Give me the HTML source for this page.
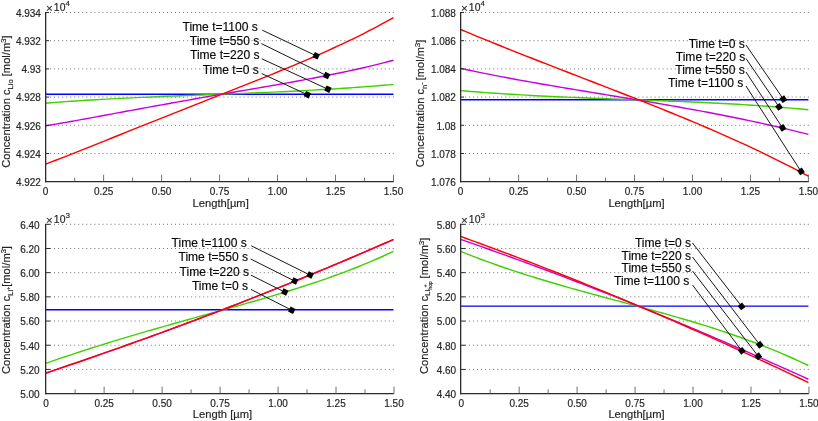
<!DOCTYPE html>
<html><head><meta charset="utf-8"><title>Concentration profiles</title>
<style>html,body{margin:0;padding:0;background:#fff;}body{width:818px;height:421px;overflow:hidden;font-family:"Liberation Sans",sans-serif;}svg{display:block;font-family:"Liberation Sans",sans-serif;will-change:transform;}text{stroke:#262626;stroke-width:0.18px;}</style>
</head><body>
<svg width="818" height="421" viewBox="0 0 818 421">
<rect width="818" height="421" fill="#fff"/>
<g>
<line x1="50.00" y1="12.50" x2="393.90" y2="12.50" stroke="#727272" stroke-width="1" stroke-dasharray="1 3.033"/>
<line x1="50.00" y1="40.70" x2="393.90" y2="40.70" stroke="#727272" stroke-width="1" stroke-dasharray="1 3.033"/>
<line x1="50.00" y1="68.90" x2="393.90" y2="68.90" stroke="#727272" stroke-width="1" stroke-dasharray="1 3.033"/>
<line x1="50.00" y1="97.10" x2="393.90" y2="97.10" stroke="#727272" stroke-width="1" stroke-dasharray="1 3.033"/>
<line x1="50.00" y1="125.30" x2="393.90" y2="125.30" stroke="#727272" stroke-width="1" stroke-dasharray="1 3.033"/>
<line x1="50.00" y1="153.50" x2="393.90" y2="153.50" stroke="#727272" stroke-width="1" stroke-dasharray="1 3.033"/>
<polyline points="45.65,94.30 393.50,94.30" fill="none" stroke="#0000ff" stroke-width="1.42" stroke-linejoin="round"/>
<polyline points="45.65,103.20 50.69,102.79 55.73,102.39 60.77,102.01 65.82,101.64 70.86,101.29 75.90,100.95 80.94,100.62 85.98,100.30 91.02,99.99 96.06,99.69 101.10,99.40 106.15,99.12 111.19,98.85 116.23,98.59 121.27,98.34 126.31,98.09 131.35,97.86 136.39,97.62 141.43,97.40 146.48,97.17 151.52,96.96 156.56,96.75 161.60,96.54 166.64,96.33 171.68,96.13 176.72,95.94 181.77,95.74 186.81,95.55 191.85,95.35 196.89,95.16 201.93,94.97 206.97,94.78 212.01,94.59 217.05,94.40 222.10,94.21 227.14,94.01 232.18,93.82 237.22,93.62 242.26,93.42 247.30,93.21 252.34,93.00 257.38,92.79 262.43,92.58 267.47,92.36 272.51,92.13 277.55,91.90 282.59,91.67 287.63,91.43 292.67,91.18 297.72,90.92 302.76,90.66 307.80,90.39 312.84,90.12 317.88,89.83 322.92,89.54 327.96,89.24 333.00,88.93 338.05,88.61 343.09,88.28 348.13,87.94 353.17,87.59 358.21,87.23 363.25,86.86 368.29,86.48 373.33,86.09 378.38,85.68 383.42,85.27 388.46,84.84 393.50,84.40" fill="none" stroke="#40d000" stroke-width="1.42" stroke-linejoin="round"/>
<polyline points="45.65,125.90 50.69,125.04 55.73,124.17 60.77,123.29 65.82,122.39 70.86,121.49 75.90,120.58 80.94,119.67 85.98,118.75 91.02,117.83 96.06,116.90 101.10,115.97 106.15,115.04 111.19,114.10 116.23,113.17 121.27,112.24 126.31,111.30 131.35,110.37 136.39,109.44 141.43,108.52 146.48,107.59 151.52,106.67 156.56,105.75 161.60,104.84 166.64,103.93 171.68,103.02 176.72,102.12 181.77,101.22 186.81,100.33 191.85,99.44 196.89,98.55 201.93,97.67 206.97,96.79 212.01,95.91 217.05,95.04 222.10,94.17 227.14,93.30 232.18,92.44 237.22,91.57 242.26,90.71 247.30,89.84 252.34,88.98 257.38,88.11 262.43,87.24 267.47,86.37 272.51,85.49 277.55,84.61 282.59,83.73 287.63,82.83 292.67,81.93 297.72,81.02 302.76,80.10 307.80,79.17 312.84,78.23 317.88,77.27 322.92,76.30 327.96,75.31 333.00,74.30 338.05,73.28 343.09,72.23 348.13,71.16 353.17,70.06 358.21,68.94 363.25,67.79 368.29,66.61 373.33,65.40 378.38,64.16 383.42,62.88 388.46,61.56 393.50,60.20" fill="none" stroke="#c800e0" stroke-width="1.42" stroke-linejoin="round"/>
<polyline points="45.65,164.10 50.69,162.18 55.73,160.24 60.77,158.29 65.82,156.32 70.86,154.35 75.90,152.36 80.94,150.37 85.98,148.36 91.02,146.36 96.06,144.34 101.10,142.33 106.15,140.31 111.19,138.28 116.23,136.26 121.27,134.24 126.31,132.21 131.35,130.19 136.39,128.17 141.43,126.15 146.48,124.13 151.52,122.11 156.56,120.10 161.60,118.08 166.64,116.08 171.68,114.07 176.72,112.07 181.77,110.07 186.81,108.07 191.85,106.08 196.89,104.08 201.93,102.09 206.97,100.10 212.01,98.12 217.05,96.13 222.10,94.14 227.14,92.15 232.18,90.16 237.22,88.17 242.26,86.17 247.30,84.17 252.34,82.17 257.38,80.16 262.43,78.14 267.47,76.11 272.51,74.07 277.55,72.02 282.59,69.96 287.63,67.88 292.67,65.79 297.72,63.68 302.76,61.55 307.80,59.40 312.84,57.23 317.88,55.03 322.92,52.80 327.96,50.55 333.00,48.27 338.05,45.95 343.09,43.60 348.13,41.21 353.17,38.78 358.21,36.31 363.25,33.79 368.29,31.23 373.33,28.61 378.38,25.94 383.42,23.22 388.46,20.44 393.50,17.60" fill="none" stroke="#ff0000" stroke-width="1.42" stroke-linejoin="round"/>
<line x1="45.65" y1="12.50" x2="49.05" y2="12.50" stroke="#2b2b2b" stroke-width="1"/>
<line x1="45.65" y1="40.70" x2="49.05" y2="40.70" stroke="#2b2b2b" stroke-width="1"/>
<line x1="45.65" y1="68.90" x2="49.05" y2="68.90" stroke="#2b2b2b" stroke-width="1"/>
<line x1="45.65" y1="97.10" x2="49.05" y2="97.10" stroke="#2b2b2b" stroke-width="1"/>
<line x1="45.65" y1="125.30" x2="49.05" y2="125.30" stroke="#2b2b2b" stroke-width="1"/>
<line x1="45.65" y1="153.50" x2="49.05" y2="153.50" stroke="#2b2b2b" stroke-width="1"/>
<line x1="45.65" y1="12.00" x2="45.65" y2="182.30" stroke="#2b2b2b" stroke-width="1.3"/>
<line x1="45.05" y1="181.70" x2="393.90" y2="181.70" stroke="#2b2b2b" stroke-width="1.3"/>
<line x1="74.64" y1="181.70" x2="74.64" y2="177.50" stroke="#4d4d4d" stroke-width="0.8"/>
<line x1="103.62" y1="181.70" x2="103.62" y2="174.70" stroke="#4d4d4d" stroke-width="0.8"/>
<line x1="132.61" y1="181.70" x2="132.61" y2="177.50" stroke="#4d4d4d" stroke-width="0.8"/>
<line x1="161.60" y1="181.70" x2="161.60" y2="174.70" stroke="#4d4d4d" stroke-width="0.8"/>
<line x1="190.59" y1="181.70" x2="190.59" y2="177.50" stroke="#4d4d4d" stroke-width="0.8"/>
<line x1="219.58" y1="181.70" x2="219.58" y2="174.70" stroke="#4d4d4d" stroke-width="0.8"/>
<line x1="248.56" y1="181.70" x2="248.56" y2="177.50" stroke="#4d4d4d" stroke-width="0.8"/>
<line x1="277.55" y1="181.70" x2="277.55" y2="174.70" stroke="#4d4d4d" stroke-width="0.8"/>
<line x1="306.54" y1="181.70" x2="306.54" y2="177.50" stroke="#4d4d4d" stroke-width="0.8"/>
<line x1="335.52" y1="181.70" x2="335.52" y2="174.70" stroke="#4d4d4d" stroke-width="0.8"/>
<line x1="364.51" y1="181.70" x2="364.51" y2="177.50" stroke="#4d4d4d" stroke-width="0.8"/>
<line x1="393.50" y1="181.70" x2="393.50" y2="174.70" stroke="#4d4d4d" stroke-width="0.8"/>
<text x="45.65" y="194.65" font-size="10" text-anchor="middle" fill="#262626">0</text>
<text x="103.62" y="194.65" font-size="10" text-anchor="middle" fill="#262626">0.25</text>
<text x="161.60" y="194.65" font-size="10" text-anchor="middle" fill="#262626">0.50</text>
<text x="219.58" y="194.65" font-size="10" text-anchor="middle" fill="#262626">0.75</text>
<text x="277.55" y="194.65" font-size="10" text-anchor="middle" fill="#262626">1.00</text>
<text x="335.52" y="194.65" font-size="10" text-anchor="middle" fill="#262626">1.25</text>
<text x="393.50" y="194.65" font-size="10" text-anchor="middle" fill="#262626">1.50</text>
<text x="40.95" y="16.80" font-size="10" text-anchor="end" fill="#262626">4.934</text>
<text x="40.95" y="45.00" font-size="10" text-anchor="end" fill="#262626">4.932</text>
<text x="40.95" y="73.20" font-size="10" text-anchor="end" fill="#262626">4.93</text>
<text x="40.95" y="101.40" font-size="10" text-anchor="end" fill="#262626">4.928</text>
<text x="40.95" y="129.60" font-size="10" text-anchor="end" fill="#262626">4.926</text>
<text x="40.95" y="157.80" font-size="10" text-anchor="end" fill="#262626">4.924</text>
<text x="40.95" y="186.00" font-size="10" text-anchor="end" fill="#262626">4.922</text>
<text x="46.05" y="10.90" font-size="10.4" fill="#262626"><tspan font-size="11.5" dy="0.95">×</tspan><tspan dx="1.1" dy="-0.95">10</tspan><tspan font-size="8" dy="-5.1">4</tspan></text>
<text x="220.70" y="207.10" font-size="11.2" text-anchor="middle" fill="#262626">Length[µm]</text>
<text transform="translate(10.3,101.6) rotate(-90)" font-size="11.2" text-anchor="middle" fill="#262626">Concentration c<tspan font-size="7.5" dy="2.2">Lio</tspan><tspan dy="-2.2"> [mol/m</tspan><tspan font-size="7.5" dy="-4">3</tspan><tspan dy="4">]</tspan></text>
<line x1="262.3" y1="30.2" x2="316.2" y2="55.8" stroke="#0a0a0a" stroke-width="0.95"/>
<rect x="-2.8" y="-2.8" width="5.6" height="5.6" fill="#000" transform="translate(316.2,55.8) rotate(25.4)"/>
<text x="257.8" y="30.85" font-size="12.05" text-anchor="end" fill="#000000" stroke="#000000" stroke-width="0.25">Time t=1100 s</text>
<line x1="261.4" y1="43.6" x2="326.6" y2="75.6" stroke="#0a0a0a" stroke-width="0.95"/>
<rect x="-2.8" y="-2.8" width="5.6" height="5.6" fill="#000" transform="translate(326.6,75.6) rotate(26.1)"/>
<text x="259.3" y="44.85" font-size="12.05" text-anchor="end" fill="#000000" stroke="#000000" stroke-width="0.25">Time t=550 s</text>
<line x1="261.8" y1="58.8" x2="327.9" y2="89.2" stroke="#0a0a0a" stroke-width="0.95"/>
<rect x="-2.8" y="-2.8" width="5.6" height="5.6" fill="#000" transform="translate(327.9,89.2) rotate(24.7)"/>
<text x="259.5" y="59.45" font-size="12.05" text-anchor="end" fill="#000000" stroke="#000000" stroke-width="0.25">Time t=220 s</text>
<line x1="261.8" y1="73.6" x2="307.4" y2="94.7" stroke="#0a0a0a" stroke-width="0.95"/>
<rect x="-2.8" y="-2.8" width="5.6" height="5.6" fill="#000" transform="translate(307.4,94.7) rotate(24.8)"/>
<text x="258.8" y="74.15" font-size="12.05" text-anchor="end" fill="#000000" stroke="#000000" stroke-width="0.25">Time t=0 s</text>
</g>
<g>
<line x1="465.00" y1="12.50" x2="808.80" y2="12.50" stroke="#727272" stroke-width="1" stroke-dasharray="1 3.033"/>
<line x1="465.00" y1="40.70" x2="808.80" y2="40.70" stroke="#727272" stroke-width="1" stroke-dasharray="1 3.033"/>
<line x1="465.00" y1="68.90" x2="808.80" y2="68.90" stroke="#727272" stroke-width="1" stroke-dasharray="1 3.033"/>
<line x1="465.00" y1="97.10" x2="808.80" y2="97.10" stroke="#727272" stroke-width="1" stroke-dasharray="1 3.033"/>
<line x1="465.00" y1="125.30" x2="808.80" y2="125.30" stroke="#727272" stroke-width="1" stroke-dasharray="1 3.033"/>
<line x1="465.00" y1="153.50" x2="808.80" y2="153.50" stroke="#727272" stroke-width="1" stroke-dasharray="1 3.033"/>
<polyline points="460.65,99.70 808.40,99.70" fill="none" stroke="#0000ff" stroke-width="1.42" stroke-linejoin="round"/>
<polyline points="460.65,90.60 465.69,91.02 470.73,91.43 475.77,91.83 480.81,92.21 485.85,92.59 490.89,92.94 495.93,93.29 500.97,93.63 506.01,93.95 511.05,94.27 516.09,94.57 521.13,94.87 526.17,95.15 531.21,95.43 536.25,95.70 541.29,95.96 546.33,96.21 551.37,96.45 556.41,96.69 561.45,96.92 566.49,97.14 571.53,97.36 576.57,97.57 581.61,97.78 586.65,97.98 591.69,98.18 596.73,98.38 601.77,98.57 606.81,98.76 611.85,98.95 616.89,99.13 621.93,99.32 626.97,99.50 632.01,99.68 637.04,99.87 642.08,100.05 647.12,100.23 652.16,100.42 657.20,100.61 662.24,100.80 667.28,100.99 672.32,101.19 677.36,101.39 682.40,101.60 687.44,101.81 692.48,102.02 697.52,102.25 702.56,102.48 707.60,102.71 712.64,102.96 717.68,103.21 722.72,103.47 727.76,103.74 732.80,104.02 737.84,104.31 742.88,104.61 747.92,104.92 752.96,105.25 758.00,105.59 763.04,105.94 768.08,106.30 773.12,106.68 778.16,107.07 783.20,107.48 788.24,107.91 793.28,108.35 798.32,108.81 803.36,109.29 808.40,109.79" fill="none" stroke="#40d000" stroke-width="1.42" stroke-linejoin="round"/>
<polyline points="460.65,68.40 465.69,69.49 470.73,70.56 475.77,71.61 480.81,72.64 485.85,73.65 490.89,74.65 495.93,75.64 500.97,76.61 506.01,77.56 511.05,78.50 516.09,79.43 521.13,80.35 526.17,81.26 531.21,82.16 536.25,83.05 541.29,83.93 546.33,84.80 551.37,85.66 556.41,86.52 561.45,87.37 566.49,88.22 571.53,89.06 576.57,89.89 581.61,90.73 586.65,91.56 591.69,92.39 596.73,93.22 601.77,94.05 606.81,94.87 611.85,95.70 616.89,96.53 621.93,97.36 626.97,98.19 632.01,99.03 637.04,99.87 642.08,100.71 647.12,101.56 652.16,102.41 657.20,103.27 662.24,104.14 667.28,105.01 672.32,105.89 677.36,106.78 682.40,107.68 687.44,108.58 692.48,109.50 697.52,110.42 702.56,111.36 707.60,112.31 712.64,113.27 717.68,114.24 722.72,115.23 727.76,116.22 732.80,117.24 737.84,118.26 742.88,119.30 747.92,120.36 752.96,121.43 758.00,122.52 763.04,123.62 768.08,124.75 773.12,125.89 778.16,127.04 783.20,128.22 788.24,129.41 793.28,130.62 798.32,131.86 803.36,133.11 808.40,134.38" fill="none" stroke="#c800e0" stroke-width="1.42" stroke-linejoin="round"/>
<polyline points="460.65,29.52 465.69,31.62 470.73,33.71 475.77,35.79 480.81,37.85 485.85,39.91 490.89,41.96 495.93,43.99 500.97,46.02 506.01,48.04 511.05,50.05 516.09,52.06 521.13,54.05 526.17,56.04 531.21,58.03 536.25,60.00 541.29,61.97 546.33,63.94 551.37,65.90 556.41,67.86 561.45,69.82 566.49,71.77 571.53,73.72 576.57,75.67 581.61,77.62 586.65,79.57 591.69,81.52 596.73,83.47 601.77,85.42 606.81,87.37 611.85,89.32 616.89,91.28 621.93,93.25 626.97,95.22 632.01,97.19 637.04,99.17 642.08,101.16 647.12,103.15 652.16,105.16 657.20,107.17 662.24,109.19 667.28,111.23 672.32,113.28 677.36,115.33 682.40,117.41 687.44,119.49 692.48,121.59 697.52,123.71 702.56,125.85 707.60,128.00 712.64,130.17 717.68,132.36 722.72,134.57 727.76,136.80 732.80,139.06 737.84,141.34 742.88,143.64 747.92,145.97 752.96,148.32 758.00,150.70 763.04,153.11 768.08,155.55 773.12,158.02 778.16,160.52 783.20,163.05 788.24,165.61 793.28,168.21 798.32,170.85 803.36,173.52 808.40,176.24" fill="none" stroke="#ff0000" stroke-width="1.42" stroke-linejoin="round"/>
<line x1="460.65" y1="12.50" x2="464.05" y2="12.50" stroke="#2b2b2b" stroke-width="1"/>
<line x1="460.65" y1="40.70" x2="464.05" y2="40.70" stroke="#2b2b2b" stroke-width="1"/>
<line x1="460.65" y1="68.90" x2="464.05" y2="68.90" stroke="#2b2b2b" stroke-width="1"/>
<line x1="460.65" y1="97.10" x2="464.05" y2="97.10" stroke="#2b2b2b" stroke-width="1"/>
<line x1="460.65" y1="125.30" x2="464.05" y2="125.30" stroke="#2b2b2b" stroke-width="1"/>
<line x1="460.65" y1="153.50" x2="464.05" y2="153.50" stroke="#2b2b2b" stroke-width="1"/>
<line x1="460.65" y1="12.00" x2="460.65" y2="182.30" stroke="#2b2b2b" stroke-width="1.3"/>
<line x1="460.05" y1="181.70" x2="808.80" y2="181.70" stroke="#2b2b2b" stroke-width="1.3"/>
<line x1="489.63" y1="181.70" x2="489.63" y2="177.50" stroke="#4d4d4d" stroke-width="0.8"/>
<line x1="518.61" y1="181.70" x2="518.61" y2="174.70" stroke="#4d4d4d" stroke-width="0.8"/>
<line x1="547.59" y1="181.70" x2="547.59" y2="177.50" stroke="#4d4d4d" stroke-width="0.8"/>
<line x1="576.57" y1="181.70" x2="576.57" y2="174.70" stroke="#4d4d4d" stroke-width="0.8"/>
<line x1="605.55" y1="181.70" x2="605.55" y2="177.50" stroke="#4d4d4d" stroke-width="0.8"/>
<line x1="634.52" y1="181.70" x2="634.52" y2="174.70" stroke="#4d4d4d" stroke-width="0.8"/>
<line x1="663.50" y1="181.70" x2="663.50" y2="177.50" stroke="#4d4d4d" stroke-width="0.8"/>
<line x1="692.48" y1="181.70" x2="692.48" y2="174.70" stroke="#4d4d4d" stroke-width="0.8"/>
<line x1="721.46" y1="181.70" x2="721.46" y2="177.50" stroke="#4d4d4d" stroke-width="0.8"/>
<line x1="750.44" y1="181.70" x2="750.44" y2="174.70" stroke="#4d4d4d" stroke-width="0.8"/>
<line x1="779.42" y1="181.70" x2="779.42" y2="177.50" stroke="#4d4d4d" stroke-width="0.8"/>
<line x1="808.40" y1="181.70" x2="808.40" y2="174.70" stroke="#4d4d4d" stroke-width="0.8"/>
<text x="460.65" y="194.65" font-size="10" text-anchor="middle" fill="#262626">0</text>
<text x="518.61" y="194.65" font-size="10" text-anchor="middle" fill="#262626">0.25</text>
<text x="576.57" y="194.65" font-size="10" text-anchor="middle" fill="#262626">0.50</text>
<text x="634.52" y="194.65" font-size="10" text-anchor="middle" fill="#262626">0.75</text>
<text x="692.48" y="194.65" font-size="10" text-anchor="middle" fill="#262626">1.00</text>
<text x="750.44" y="194.65" font-size="10" text-anchor="middle" fill="#262626">1.25</text>
<text x="808.40" y="194.65" font-size="10" text-anchor="middle" fill="#262626">1.50</text>
<text x="455.95" y="16.80" font-size="10" text-anchor="end" fill="#262626">1.088</text>
<text x="455.95" y="45.00" font-size="10" text-anchor="end" fill="#262626">1.086</text>
<text x="455.95" y="73.20" font-size="10" text-anchor="end" fill="#262626">1.084</text>
<text x="455.95" y="101.40" font-size="10" text-anchor="end" fill="#262626">1.082</text>
<text x="455.95" y="129.60" font-size="10" text-anchor="end" fill="#262626">1.08</text>
<text x="455.95" y="157.80" font-size="10" text-anchor="end" fill="#262626">1.078</text>
<text x="455.95" y="186.00" font-size="10" text-anchor="end" fill="#262626">1.076</text>
<text x="461.05" y="10.90" font-size="10.4" fill="#262626"><tspan font-size="11.5" dy="0.95">×</tspan><tspan dx="1.1" dy="-0.95">10</tspan><tspan font-size="8" dy="-5.1">4</tspan></text>
<text x="636.50" y="207.10" font-size="11.2" text-anchor="middle" fill="#262626">Length[µm]</text>
<text transform="translate(424.4,103.5) rotate(-90)" font-size="11.2" text-anchor="middle" fill="#262626">Concentration c<tspan font-size="7.5" dy="2.2">n</tspan><tspan font-size="5" dy="-2.2">−</tspan><tspan font-size="11.1" dx="-1.5" dy="0"> [mol/m</tspan><tspan font-size="7.5" dy="-4">3</tspan><tspan dy="4">]</tspan></text>
<line x1="746" y1="45" x2="783.4" y2="99.2" stroke="#0a0a0a" stroke-width="0.95"/>
<rect x="-2.8" y="-2.8" width="5.6" height="5.6" fill="#000" transform="translate(783.4,99.2) rotate(55.4)"/>
<text x="744.8" y="47.95" font-size="12.05" text-anchor="end" fill="#000000" stroke="#000000" stroke-width="0.25">Time t=0 s</text>
<line x1="746" y1="58.5" x2="779" y2="106.9" stroke="#0a0a0a" stroke-width="0.95"/>
<rect x="-2.8" y="-2.8" width="5.6" height="5.6" fill="#000" transform="translate(779,106.9) rotate(55.7)"/>
<text x="745.3" y="60.75" font-size="12.05" text-anchor="end" fill="#000000" stroke="#000000" stroke-width="0.25">Time t=220 s</text>
<line x1="746" y1="72" x2="782.5" y2="127.9" stroke="#0a0a0a" stroke-width="0.95"/>
<rect x="-2.8" y="-2.8" width="5.6" height="5.6" fill="#000" transform="translate(782.5,127.9) rotate(56.9)"/>
<text x="744.8" y="73.75" font-size="12.05" text-anchor="end" fill="#000000" stroke="#000000" stroke-width="0.25">Time t=550 s</text>
<line x1="746" y1="86" x2="801" y2="171.4" stroke="#0a0a0a" stroke-width="0.95"/>
<rect x="-2.8" y="-2.8" width="5.6" height="5.6" fill="#000" transform="translate(801,171.4) rotate(57.2)"/>
<text x="743.4" y="86.85" font-size="12.05" text-anchor="end" fill="#000000" stroke="#000000" stroke-width="0.25">Time t=1100 s</text>
</g>
<g>
<line x1="50.00" y1="224.30" x2="393.90" y2="224.30" stroke="#727272" stroke-width="1" stroke-dasharray="1 3.033"/>
<line x1="50.00" y1="248.49" x2="393.90" y2="248.49" stroke="#727272" stroke-width="1" stroke-dasharray="1 3.033"/>
<line x1="50.00" y1="272.67" x2="393.90" y2="272.67" stroke="#727272" stroke-width="1" stroke-dasharray="1 3.033"/>
<line x1="50.00" y1="296.86" x2="393.90" y2="296.86" stroke="#727272" stroke-width="1" stroke-dasharray="1 3.033"/>
<line x1="50.00" y1="321.04" x2="393.90" y2="321.04" stroke="#727272" stroke-width="1" stroke-dasharray="1 3.033"/>
<line x1="50.00" y1="345.23" x2="393.90" y2="345.23" stroke="#727272" stroke-width="1" stroke-dasharray="1 3.033"/>
<line x1="50.00" y1="369.41" x2="393.90" y2="369.41" stroke="#727272" stroke-width="1" stroke-dasharray="1 3.033"/>
<polyline points="45.65,309.70 393.50,309.70" fill="none" stroke="#0000ff" stroke-width="1.42" stroke-linejoin="round"/>
<polyline points="45.65,363.39 50.69,361.65 55.73,359.91 60.77,358.20 65.82,356.50 70.86,354.82 75.90,353.15 80.94,351.50 85.98,349.87 91.02,348.25 96.06,346.65 101.10,345.07 106.15,343.49 111.19,341.94 116.23,340.40 121.27,338.87 126.31,337.35 131.35,335.85 136.39,334.36 141.43,332.88 146.48,331.41 151.52,329.96 156.56,328.51 161.60,327.07 166.64,325.64 171.68,324.22 176.72,322.80 181.77,321.39 186.81,319.99 191.85,318.59 196.89,317.19 201.93,315.80 206.97,314.40 212.01,313.01 217.05,311.61 222.10,310.22 227.14,308.82 232.18,307.41 237.22,306.00 242.26,304.59 247.30,303.16 252.34,301.73 257.38,300.28 262.43,298.82 267.47,297.35 272.51,295.87 277.55,294.36 282.59,292.84 287.63,291.30 292.67,289.74 297.72,288.16 302.76,286.55 307.80,284.91 312.84,283.25 317.88,281.56 322.92,279.83 327.96,278.08 333.00,276.28 338.05,274.45 343.09,272.58 348.13,270.68 353.17,268.72 358.21,266.73 363.25,264.68 368.29,262.59 373.33,260.44 378.38,258.24 383.42,255.99 388.46,253.68 393.50,251.31" fill="none" stroke="#40d000" stroke-width="1.42" stroke-linejoin="round"/>
<polyline points="45.65,373.00 50.69,371.32 55.73,369.64 60.77,367.94 65.82,366.25 70.86,364.54 75.90,362.83 80.94,361.10 85.98,359.38 91.02,357.64 96.06,355.90 101.10,354.15 106.15,352.39 111.19,350.62 116.23,348.85 121.27,347.07 126.31,345.29 131.35,343.49 136.39,341.69 141.43,339.88 146.48,338.06 151.52,336.24 156.56,334.41 161.60,332.57 166.64,330.72 171.68,328.87 176.72,327.01 181.77,325.14 186.81,323.26 191.85,321.38 196.89,319.48 201.93,317.59 206.97,315.68 212.01,313.76 217.05,311.84 222.10,309.91 227.14,307.97 232.18,306.03 237.22,304.07 242.26,302.11 247.30,300.14 252.34,298.17 257.38,296.18 262.43,294.19 267.47,292.19 272.51,290.18 277.55,288.17 282.59,286.14 287.63,284.11 292.67,282.07 297.72,280.02 302.76,277.97 307.80,275.91 312.84,273.84 317.88,271.76 322.92,269.67 327.96,267.57 333.00,265.47 338.05,263.36 343.09,261.24 348.13,259.11 353.17,256.98 358.21,254.83 363.25,252.68 368.29,250.52 373.33,248.35 378.38,246.18 383.42,243.99 388.46,241.80 393.50,239.60" fill="none" stroke="#c800e0" stroke-width="1.42" stroke-linejoin="round"/>
<polyline points="45.65,373.30 50.69,371.59 55.73,369.88 60.77,368.16 65.82,366.43 70.86,364.70 75.90,362.97 80.94,361.23 85.98,359.48 91.02,357.73 96.06,355.97 101.10,354.20 106.15,352.43 111.19,350.66 116.23,348.88 121.27,347.09 126.31,345.29 131.35,343.49 136.39,341.68 141.43,339.87 146.48,338.05 151.52,336.22 156.56,334.39 161.60,332.55 166.64,330.70 171.68,328.85 176.72,326.99 181.77,325.12 186.81,323.24 191.85,321.36 196.89,319.47 201.93,317.57 206.97,315.67 212.01,313.76 217.05,311.84 222.10,309.91 227.14,307.97 232.18,306.03 237.22,304.08 242.26,302.12 247.30,300.15 252.34,298.18 257.38,296.20 262.43,294.21 267.47,292.21 272.51,290.20 277.55,288.18 282.59,286.16 287.63,284.12 292.67,282.08 297.72,280.03 302.76,277.97 307.80,275.90 312.84,273.82 317.88,271.74 322.92,269.64 327.96,267.54 333.00,265.42 338.05,263.30 343.09,261.17 348.13,259.02 353.17,256.87 358.21,254.71 363.25,252.54 368.29,250.36 373.33,248.17 378.38,245.96 383.42,243.75 388.46,241.53 393.50,239.30" fill="none" stroke="#ff0000" stroke-width="1.42" stroke-linejoin="round"/>
<line x1="45.65" y1="224.30" x2="50.25" y2="224.30" stroke="#2b2b2b" stroke-width="1"/>
<line x1="45.65" y1="248.49" x2="50.25" y2="248.49" stroke="#2b2b2b" stroke-width="1"/>
<line x1="45.65" y1="272.67" x2="50.25" y2="272.67" stroke="#2b2b2b" stroke-width="1"/>
<line x1="45.65" y1="296.86" x2="50.25" y2="296.86" stroke="#2b2b2b" stroke-width="1"/>
<line x1="45.65" y1="321.04" x2="50.25" y2="321.04" stroke="#2b2b2b" stroke-width="1"/>
<line x1="45.65" y1="345.23" x2="50.25" y2="345.23" stroke="#2b2b2b" stroke-width="1"/>
<line x1="45.65" y1="369.41" x2="50.25" y2="369.41" stroke="#2b2b2b" stroke-width="1"/>
<line x1="45.65" y1="223.80" x2="45.65" y2="394.20" stroke="#2b2b2b" stroke-width="1.3"/>
<line x1="45.05" y1="393.60" x2="393.90" y2="393.60" stroke="#2b2b2b" stroke-width="1.3"/>
<line x1="75.14" y1="393.60" x2="75.14" y2="389.40" stroke="#4d4d4d" stroke-width="0.8"/>
<line x1="104.12" y1="393.60" x2="104.12" y2="386.60" stroke="#4d4d4d" stroke-width="0.8"/>
<line x1="133.11" y1="393.60" x2="133.11" y2="389.40" stroke="#4d4d4d" stroke-width="0.8"/>
<line x1="162.10" y1="393.60" x2="162.10" y2="386.60" stroke="#4d4d4d" stroke-width="0.8"/>
<line x1="191.09" y1="393.60" x2="191.09" y2="389.40" stroke="#4d4d4d" stroke-width="0.8"/>
<line x1="220.08" y1="393.60" x2="220.08" y2="386.60" stroke="#4d4d4d" stroke-width="0.8"/>
<line x1="249.06" y1="393.60" x2="249.06" y2="389.40" stroke="#4d4d4d" stroke-width="0.8"/>
<line x1="278.05" y1="393.60" x2="278.05" y2="386.60" stroke="#4d4d4d" stroke-width="0.8"/>
<line x1="307.04" y1="393.60" x2="307.04" y2="389.40" stroke="#4d4d4d" stroke-width="0.8"/>
<line x1="336.02" y1="393.60" x2="336.02" y2="386.60" stroke="#4d4d4d" stroke-width="0.8"/>
<line x1="365.01" y1="393.60" x2="365.01" y2="389.40" stroke="#4d4d4d" stroke-width="0.8"/>
<line x1="394.00" y1="393.60" x2="394.00" y2="386.60" stroke="#4d4d4d" stroke-width="0.8"/>
<text x="46.15" y="406.55" font-size="10" text-anchor="middle" fill="#262626">0</text>
<text x="104.12" y="406.55" font-size="10" text-anchor="middle" fill="#262626">0.25</text>
<text x="162.10" y="406.55" font-size="10" text-anchor="middle" fill="#262626">0.50</text>
<text x="220.08" y="406.55" font-size="10" text-anchor="middle" fill="#262626">0.75</text>
<text x="278.05" y="406.55" font-size="10" text-anchor="middle" fill="#262626">1.00</text>
<text x="336.02" y="406.55" font-size="10" text-anchor="middle" fill="#262626">1.25</text>
<text x="394.00" y="406.55" font-size="10" text-anchor="middle" fill="#262626">1.50</text>
<text x="39.65" y="228.60" font-size="10" text-anchor="end" fill="#262626">6.40</text>
<text x="39.65" y="252.79" font-size="10" text-anchor="end" fill="#262626">6.20</text>
<text x="39.65" y="276.97" font-size="10" text-anchor="end" fill="#262626">6.00</text>
<text x="39.65" y="301.16" font-size="10" text-anchor="end" fill="#262626">5.80</text>
<text x="39.65" y="325.34" font-size="10" text-anchor="end" fill="#262626">5.60</text>
<text x="39.65" y="349.53" font-size="10" text-anchor="end" fill="#262626">5.40</text>
<text x="39.65" y="373.71" font-size="10" text-anchor="end" fill="#262626">5.20</text>
<text x="39.65" y="397.90" font-size="10" text-anchor="end" fill="#262626">5.00</text>
<text x="46.05" y="222.70" font-size="10.4" fill="#262626"><tspan font-size="11.5" dy="0.95">×</tspan><tspan dx="1.1" dy="-0.95">10</tspan><tspan font-size="8" dy="-5.1">3</tspan></text>
<text x="222.50" y="418.15" font-size="11.2" text-anchor="middle" fill="#262626">Length [µm]</text>
<text transform="translate(10.3,310) rotate(-90)" font-size="11.2" text-anchor="middle" fill="#262626">Concentration c<tspan font-size="7.5" dy="2.2">Li</tspan><tspan font-size="5" dy="-2.4">+</tspan><tspan font-size="11.2" dy="0.2">[mol/m</tspan><tspan font-size="7.5" dy="-4">3</tspan><tspan dy="4">]</tspan></text>
<line x1="251.3" y1="245.8" x2="310.1" y2="275.1" stroke="#0a0a0a" stroke-width="0.95"/>
<rect x="-2.8" y="-2.8" width="5.6" height="5.6" fill="#000" transform="translate(310.1,275.1) rotate(26.5)"/>
<text x="246.9" y="246.95" font-size="12.05" text-anchor="end" fill="#000000" stroke="#000000" stroke-width="0.25">Time t=1100 s</text>
<line x1="250.7" y1="259" x2="294.7" y2="281.1" stroke="#0a0a0a" stroke-width="0.95"/>
<rect x="-2.8" y="-2.8" width="5.6" height="5.6" fill="#000" transform="translate(294.7,281.1) rotate(26.7)"/>
<text x="248" y="260.85" font-size="12.05" text-anchor="end" fill="#000000" stroke="#000000" stroke-width="0.25">Time t=550 s</text>
<line x1="250.9" y1="275.1" x2="284.8" y2="292.1" stroke="#0a0a0a" stroke-width="0.95"/>
<rect x="-2.8" y="-2.8" width="5.6" height="5.6" fill="#000" transform="translate(284.8,292.1) rotate(26.6)"/>
<text x="249.1" y="275.55" font-size="12.05" text-anchor="end" fill="#000000" stroke="#000000" stroke-width="0.25">Time t=220 s</text>
<line x1="250.9" y1="289.4" x2="291.8" y2="310.3" stroke="#0a0a0a" stroke-width="0.95"/>
<rect x="-2.8" y="-2.8" width="5.6" height="5.6" fill="#000" transform="translate(291.8,310.3) rotate(27.1)"/>
<text x="248" y="290.35" font-size="12.05" text-anchor="end" fill="#000000" stroke="#000000" stroke-width="0.25">Time t=0 s</text>
</g>
<g>
<line x1="465.00" y1="224.30" x2="808.80" y2="224.30" stroke="#727272" stroke-width="1" stroke-dasharray="1 3.033"/>
<line x1="465.00" y1="248.49" x2="808.80" y2="248.49" stroke="#727272" stroke-width="1" stroke-dasharray="1 3.033"/>
<line x1="465.00" y1="272.67" x2="808.80" y2="272.67" stroke="#727272" stroke-width="1" stroke-dasharray="1 3.033"/>
<line x1="465.00" y1="296.86" x2="808.80" y2="296.86" stroke="#727272" stroke-width="1" stroke-dasharray="1 3.033"/>
<line x1="465.00" y1="321.04" x2="808.80" y2="321.04" stroke="#727272" stroke-width="1" stroke-dasharray="1 3.033"/>
<line x1="465.00" y1="345.23" x2="808.80" y2="345.23" stroke="#727272" stroke-width="1" stroke-dasharray="1 3.033"/>
<line x1="465.00" y1="369.41" x2="808.80" y2="369.41" stroke="#727272" stroke-width="1" stroke-dasharray="1 3.033"/>
<polyline points="460.65,306.10 808.40,306.10" fill="none" stroke="#0000ff" stroke-width="1.42" stroke-linejoin="round"/>
<polyline points="460.65,251.30 465.69,253.35 470.73,255.35 475.77,257.31 480.81,259.23 485.85,261.11 490.89,262.95 495.93,264.75 500.97,266.51 506.01,268.25 511.05,269.94 516.09,271.61 521.13,273.25 526.17,274.86 531.21,276.44 536.25,278.00 541.29,279.53 546.33,281.04 551.37,282.53 556.41,284.00 561.45,285.46 566.49,286.89 571.53,288.31 576.57,289.72 581.61,291.12 586.65,292.50 591.69,293.88 596.73,295.25 601.77,296.61 606.81,297.97 611.85,299.32 616.89,300.67 621.93,302.03 626.97,303.38 632.01,304.74 637.04,306.10 642.08,307.47 647.12,308.84 652.16,310.22 657.20,311.62 662.24,313.02 667.28,314.44 672.32,315.87 677.36,317.32 682.40,318.79 687.44,320.27 692.48,321.78 697.52,323.30 702.56,324.86 707.60,326.43 712.64,328.04 717.68,329.67 722.72,331.33 727.76,333.02 732.80,334.74 737.84,336.50 742.88,338.29 747.92,340.12 752.96,341.99 758.00,343.90 763.04,345.85 768.08,347.84 773.12,349.88 778.16,351.96 783.20,354.09 788.24,356.27 793.28,358.50 798.32,360.78 803.36,363.12 808.40,365.51" fill="none" stroke="#40d000" stroke-width="1.42" stroke-linejoin="round"/>
<polyline points="460.65,239.40 465.69,241.15 470.73,242.91 475.77,244.68 480.81,246.45 485.85,248.24 490.89,250.03 495.93,251.83 500.97,253.63 506.01,255.45 511.05,257.27 516.09,259.10 521.13,260.94 526.17,262.79 531.21,264.65 536.25,266.51 541.29,268.38 546.33,270.26 551.37,272.15 556.41,274.05 561.45,275.95 566.49,277.87 571.53,279.79 576.57,281.72 581.61,283.65 586.65,285.60 591.69,287.55 596.73,289.52 601.77,291.49 606.81,293.46 611.85,295.45 616.89,297.44 621.93,299.45 626.97,301.46 632.01,303.48 637.04,305.50 642.08,307.54 647.12,309.58 652.16,311.63 657.20,313.69 662.24,315.76 667.28,317.84 672.32,319.92 677.36,322.01 682.40,324.11 687.44,326.22 692.48,328.34 697.52,330.46 702.56,332.60 707.60,334.74 712.64,336.89 717.68,339.04 722.72,341.21 727.76,343.38 732.80,345.57 737.84,347.76 742.88,349.95 747.92,352.16 752.96,354.37 758.00,356.60 763.04,358.83 768.08,361.07 773.12,363.31 778.16,365.57 783.20,367.83 788.24,370.10 793.28,372.38 798.32,374.67 803.36,376.97 808.40,379.27" fill="none" stroke="#c800e0" stroke-width="1.42" stroke-linejoin="round"/>
<polyline points="460.65,236.41 465.69,238.23 470.73,240.06 475.77,241.90 480.81,243.74 485.85,245.60 490.89,247.47 495.93,249.34 500.97,251.22 506.01,253.11 511.05,255.01 516.09,256.92 521.13,258.84 526.17,260.77 531.21,262.70 536.25,264.64 541.29,266.60 546.33,268.56 551.37,270.53 556.41,272.51 561.45,274.49 566.49,276.49 571.53,278.49 576.57,280.51 581.61,282.53 586.65,284.56 591.69,286.60 596.73,288.65 601.77,290.71 606.81,292.77 611.85,294.85 616.89,296.93 621.93,299.02 626.97,301.12 632.01,303.23 637.04,305.35 642.08,307.48 647.12,309.61 652.16,311.76 657.20,313.91 662.24,316.07 667.28,318.24 672.32,320.42 677.36,322.61 682.40,324.81 687.44,327.01 692.48,329.23 697.52,331.45 702.56,333.68 707.60,335.92 712.64,338.17 717.68,340.43 722.72,342.70 727.76,344.97 732.80,347.26 737.84,349.55 742.88,351.85 747.92,354.16 752.96,356.48 758.00,358.81 763.04,361.15 768.08,363.49 773.12,365.85 778.16,368.21 783.20,370.58 788.24,372.96 793.28,375.35 798.32,377.75 803.36,380.15 808.40,382.57" fill="none" stroke="#ff0000" stroke-width="1.42" stroke-linejoin="round"/>
<line x1="460.65" y1="224.30" x2="465.25" y2="224.30" stroke="#2b2b2b" stroke-width="1"/>
<line x1="460.65" y1="248.49" x2="465.25" y2="248.49" stroke="#2b2b2b" stroke-width="1"/>
<line x1="460.65" y1="272.67" x2="465.25" y2="272.67" stroke="#2b2b2b" stroke-width="1"/>
<line x1="460.65" y1="296.86" x2="465.25" y2="296.86" stroke="#2b2b2b" stroke-width="1"/>
<line x1="460.65" y1="321.04" x2="465.25" y2="321.04" stroke="#2b2b2b" stroke-width="1"/>
<line x1="460.65" y1="345.23" x2="465.25" y2="345.23" stroke="#2b2b2b" stroke-width="1"/>
<line x1="460.65" y1="369.41" x2="465.25" y2="369.41" stroke="#2b2b2b" stroke-width="1"/>
<line x1="460.65" y1="223.80" x2="460.65" y2="394.20" stroke="#2b2b2b" stroke-width="1.3"/>
<line x1="460.05" y1="393.60" x2="808.80" y2="393.60" stroke="#2b2b2b" stroke-width="1.3"/>
<line x1="490.18" y1="393.60" x2="490.18" y2="389.40" stroke="#4d4d4d" stroke-width="0.8"/>
<line x1="519.16" y1="393.60" x2="519.16" y2="386.60" stroke="#4d4d4d" stroke-width="0.8"/>
<line x1="548.14" y1="393.60" x2="548.14" y2="389.40" stroke="#4d4d4d" stroke-width="0.8"/>
<line x1="577.12" y1="393.60" x2="577.12" y2="386.60" stroke="#4d4d4d" stroke-width="0.8"/>
<line x1="606.10" y1="393.60" x2="606.10" y2="389.40" stroke="#4d4d4d" stroke-width="0.8"/>
<line x1="635.08" y1="393.60" x2="635.08" y2="386.60" stroke="#4d4d4d" stroke-width="0.8"/>
<line x1="664.05" y1="393.60" x2="664.05" y2="389.40" stroke="#4d4d4d" stroke-width="0.8"/>
<line x1="693.03" y1="393.60" x2="693.03" y2="386.60" stroke="#4d4d4d" stroke-width="0.8"/>
<line x1="722.01" y1="393.60" x2="722.01" y2="389.40" stroke="#4d4d4d" stroke-width="0.8"/>
<line x1="750.99" y1="393.60" x2="750.99" y2="386.60" stroke="#4d4d4d" stroke-width="0.8"/>
<line x1="779.97" y1="393.60" x2="779.97" y2="389.40" stroke="#4d4d4d" stroke-width="0.8"/>
<line x1="808.95" y1="393.60" x2="808.95" y2="386.60" stroke="#4d4d4d" stroke-width="0.8"/>
<text x="461.20" y="406.55" font-size="10" text-anchor="middle" fill="#262626">0</text>
<text x="519.16" y="406.55" font-size="10" text-anchor="middle" fill="#262626">0.25</text>
<text x="577.12" y="406.55" font-size="10" text-anchor="middle" fill="#262626">0.50</text>
<text x="635.08" y="406.55" font-size="10" text-anchor="middle" fill="#262626">0.75</text>
<text x="693.03" y="406.55" font-size="10" text-anchor="middle" fill="#262626">1.00</text>
<text x="750.99" y="406.55" font-size="10" text-anchor="middle" fill="#262626">1.25</text>
<text x="808.95" y="406.55" font-size="10" text-anchor="middle" fill="#262626">1.50</text>
<text x="456.10" y="228.60" font-size="10" text-anchor="end" fill="#262626">5.80</text>
<text x="456.10" y="252.79" font-size="10" text-anchor="end" fill="#262626">5.60</text>
<text x="456.10" y="276.97" font-size="10" text-anchor="end" fill="#262626">5.40</text>
<text x="456.10" y="301.16" font-size="10" text-anchor="end" fill="#262626">5.20</text>
<text x="456.10" y="325.34" font-size="10" text-anchor="end" fill="#262626">5.00</text>
<text x="456.10" y="349.53" font-size="10" text-anchor="end" fill="#262626">4.80</text>
<text x="456.10" y="373.71" font-size="10" text-anchor="end" fill="#262626">4.60</text>
<text x="456.10" y="397.90" font-size="10" text-anchor="end" fill="#262626">4.40</text>
<text x="461.05" y="222.70" font-size="10.4" fill="#262626"><tspan font-size="11.5" dy="0.95">×</tspan><tspan dx="1.1" dy="-0.95">10</tspan><tspan font-size="8" dy="-5.1">3</tspan></text>
<text x="636.50" y="418.15" font-size="11.2" text-anchor="middle" fill="#262626">Length[µm]</text>
<text transform="translate(428,305.8) rotate(-90)" font-size="11.2" text-anchor="middle" fill="#262626">Concentration c<tspan font-size="7.5" dy="2.2">Li</tspan><tspan font-size="4.8" dx="0.4" dy="1.8">hop</tspan><tspan font-size="5.5" dx="-6" dy="-5.2">+</tspan><tspan font-size="11.2" dx="2.6" dy="1.2"> [mol/m</tspan><tspan font-size="7.5" dy="-4">3</tspan><tspan dy="4">]</tspan></text>
<line x1="692.5" y1="243" x2="741.6" y2="306.4" stroke="#0a0a0a" stroke-width="0.95"/>
<rect x="-2.8" y="-2.8" width="5.6" height="5.6" fill="#000" transform="translate(741.6,306.4) rotate(52.2)"/>
<text x="691" y="246.75" font-size="12.05" text-anchor="end" fill="#000000" stroke="#000000" stroke-width="0.25">Time t=0 s</text>
<line x1="692.5" y1="257" x2="759.8" y2="344.7" stroke="#0a0a0a" stroke-width="0.95"/>
<rect x="-2.8" y="-2.8" width="5.6" height="5.6" fill="#000" transform="translate(759.8,344.7) rotate(52.5)"/>
<text x="691" y="259.75" font-size="12.05" text-anchor="end" fill="#000000" stroke="#000000" stroke-width="0.25">Time t=220 s</text>
<line x1="692.5" y1="271" x2="758.3" y2="356.3" stroke="#0a0a0a" stroke-width="0.95"/>
<rect x="-2.8" y="-2.8" width="5.6" height="5.6" fill="#000" transform="translate(758.3,356.3) rotate(52.4)"/>
<text x="691" y="272.25" font-size="12.05" text-anchor="end" fill="#000000" stroke="#000000" stroke-width="0.25">Time t=550 s</text>
<line x1="692.5" y1="285" x2="741.8" y2="350.8" stroke="#0a0a0a" stroke-width="0.95"/>
<rect x="-2.8" y="-2.8" width="5.6" height="5.6" fill="#000" transform="translate(741.8,350.8) rotate(53.2)"/>
<text x="689.3" y="285.45" font-size="12.05" text-anchor="end" fill="#000000" stroke="#000000" stroke-width="0.25">Time t=1100 s</text>
</g>
</svg></body></html>
